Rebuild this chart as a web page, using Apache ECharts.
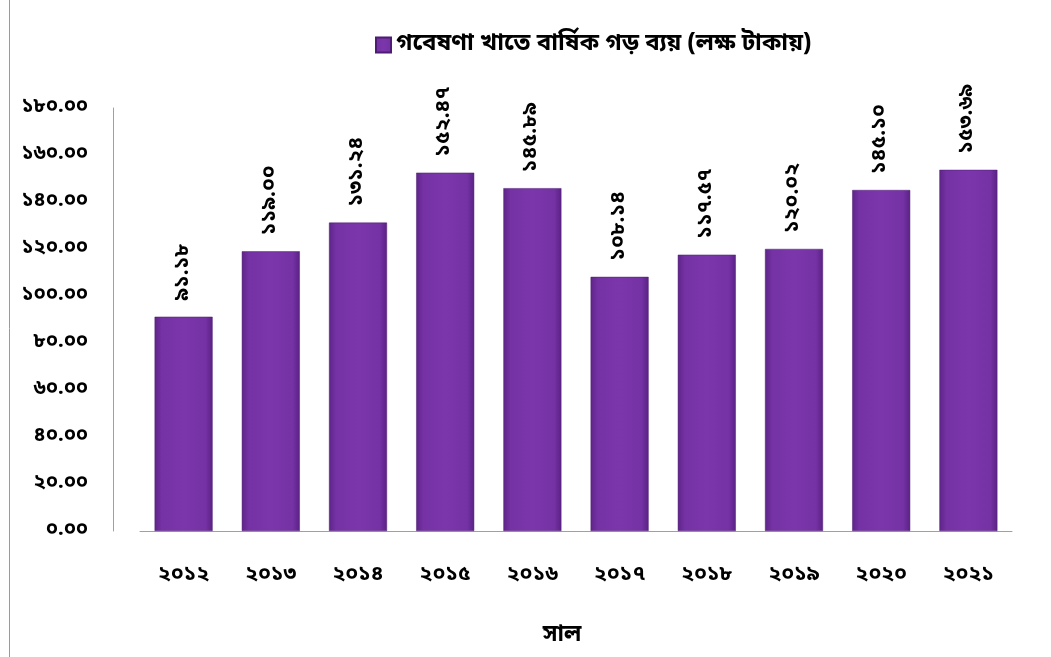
<!DOCTYPE html>
<html><head><meta charset="utf-8">
<script src="https://cdn.jsdelivr.net/npm/echarts@6/dist/echarts.min.js"></script>
<style>html,body{margin:0;padding:0;background:#fff}#c{width:1051px;height:657px}</style>
</head><body><div id="c"></div>
<script>
const categories = ['২০১২','২০১৩','২০১৪','২০১৫','২০১৬','২০১৭','২০১৮','২০১৯','২০২০','২০২১'];
const values = [91.18, 119.00, 131.24, 152.47, 145.89, 108.14, 117.57, 120.02, 145.10, 153.69];
const seriesName = 'গবেষণা খাতে বার্ষিক গড় ব্যয় (লক্ষ টাকায়)';
const xAxisName = 'সাল';
const bnDigits = ['০','১','২','৩','৪','৫','৬','৭','৮','৯'];
const toBn = s => String(s).replace(/[0-9]/g, d => bnDigits[+d]);
const FONT = '"Noto Sans Bengali","Noto Sans","DejaVu Sans",sans-serif';

const chart = echarts.init(document.getElementById('c'));
const barColor = new echarts.graphic.LinearGradient(0,0,1,0,[
  {offset:0,color:'#5e2488'},{offset:0.12,color:'#7432a4'},
  {offset:0.5,color:'#7b36ab'},{offset:0.88,color:'#7432a4'},{offset:1,color:'#5a2284'}]);
chart.setOption({
  animation:false,
  backgroundColor:'#fff',
  legend:{
    top:28, left:370, itemWidth:15, itemHeight:15, itemGap:6,
    textStyle:{fontFamily:FONT,fontWeight:'bold',fontSize:24,color:'#000'},
    data:[{name:seriesName, icon:'rect'}]
  },
  grid:{left:140, right:39, top:108, bottom:126, containLabel:false},
  xAxis:{
    type:'category', data:categories,
    name:xAxisName, nameLocation:'middle', nameGap:94,
    nameTextStyle:{fontFamily:FONT,fontWeight:'bold',fontSize:23,color:'#000',padding:[0,28,0,0]},
    axisLine:{show:true,lineStyle:{color:'#a0a0a0',width:1}},
    axisTick:{show:false},
    axisLabel:{fontFamily:FONT,fontWeight:'bold',fontSize:21,color:'#000',margin:34}
  },
  yAxis:{
    type:'value', min:0, max:180, interval:20, offset:27,
    axisLine:{show:true,lineStyle:{color:'#a0a0a0',width:1}},
    axisTick:{show:false},
    splitLine:{show:false},
    axisLabel:{fontFamily:FONT,fontWeight:'bold',fontSize:20,color:'#000',margin:25,
      formatter:v=>toBn(v.toFixed(2))}
  },
  series:[{
    name:seriesName, type:'bar', data:values, barWidth:58,
    itemStyle:{color:barColor, borderColor:'#4e1c74', borderWidth:0.5},
    label:{show:true, position:'top', rotate:90, distance:16, align:'left', verticalAlign:'middle',
      fontFamily:FONT, fontWeight:'bold', fontSize:21, color:'#000',
      formatter:p=>toBn(p.value.toFixed(2))}
  }],
  graphic:[{type:'line', shape:{x1:9.5,y1:0,x2:9.5,y2:657}, style:{stroke:'#9a9a9a',lineWidth:1}}]
});
</script></body></html>
